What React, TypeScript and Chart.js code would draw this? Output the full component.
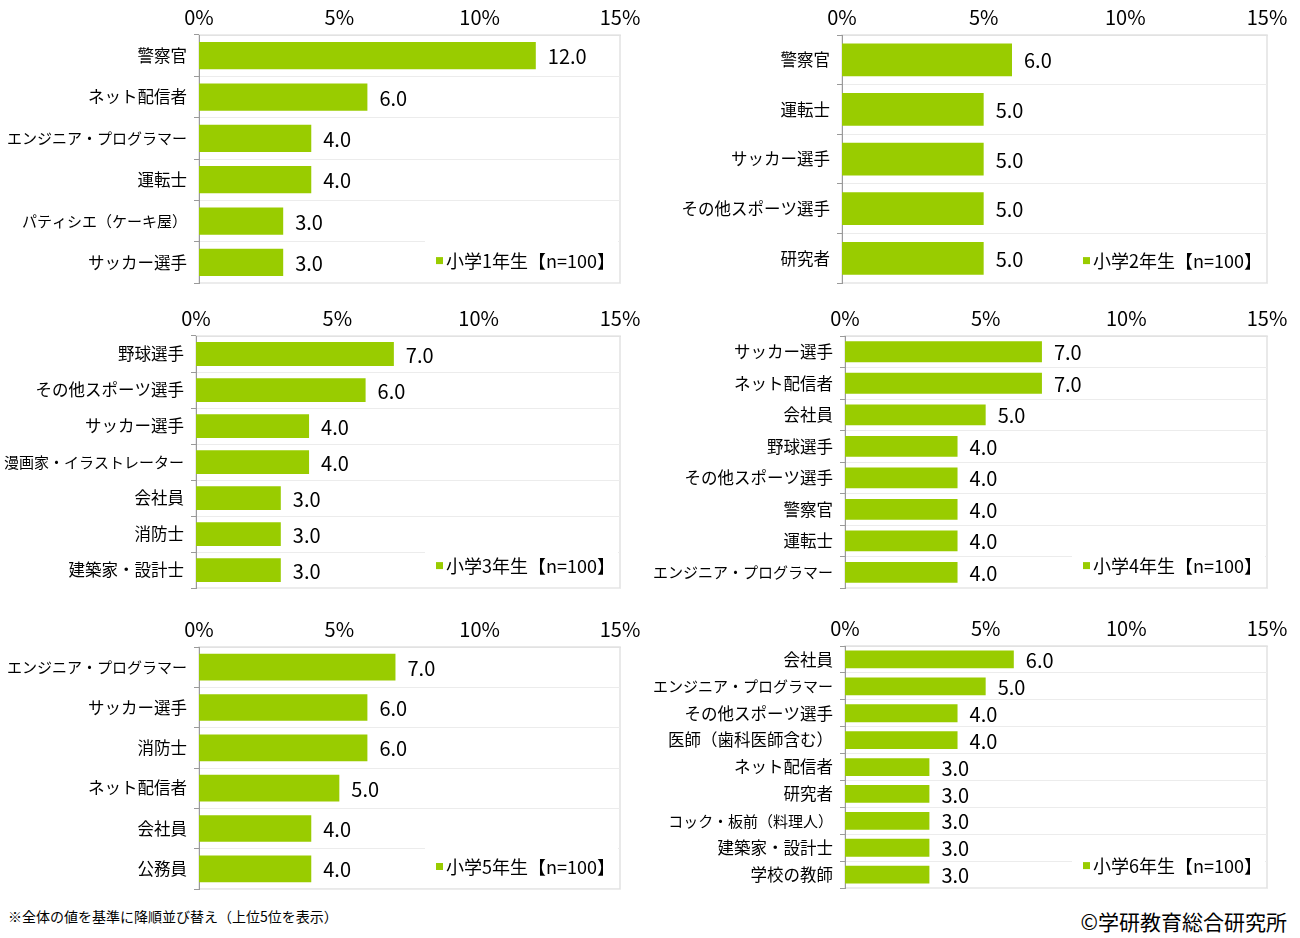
import { useEffect, useRef } from 'react'
import { Chart, registerables } from 'chart.js'

Chart.register(...registerables)

const FONT = '"Noto Sans CJK JP", "Noto Sans", sans-serif'
const BAR_COLOR = '#99cc00'

// x axis ticks (%)
const xTickValues = [0, 5, 10, 15]

// 小学1年生
const grade1Jobs = ['警察官', 'ネット配信者', 'エンジニア・プログラマー', '運転士', 'パティシエ（ケーキ屋）', 'サッカー選手']
const grade1Values = [12.0, 6.0, 4.0, 4.0, 3.0, 3.0]

// 小学2年生
const grade2Jobs = ['警察官', '運転士', 'サッカー選手', 'その他スポーツ選手', '研究者']
const grade2Values = [6.0, 5.0, 5.0, 5.0, 5.0]

// 小学3年生
const grade3Jobs = ['野球選手', 'その他スポーツ選手', 'サッカー選手', '漫画家・イラストレーター', '会社員', '消防士', '建築家・設計士']
const grade3Values = [7.0, 6.0, 4.0, 4.0, 3.0, 3.0, 3.0]

// 小学4年生
const grade4Jobs = ['サッカー選手', 'ネット配信者', '会社員', '野球選手', 'その他スポーツ選手', '警察官', '運転士', 'エンジニア・プログラマー']
const grade4Values = [7.0, 7.0, 5.0, 4.0, 4.0, 4.0, 4.0, 4.0]

// 小学5年生
const grade5Jobs = ['エンジニア・プログラマー', 'サッカー選手', '消防士', 'ネット配信者', '会社員', '公務員']
const grade5Values = [7.0, 6.0, 6.0, 5.0, 4.0, 4.0]

// 小学6年生
const grade6Jobs = ['会社員', 'エンジニア・プログラマー', 'その他スポーツ選手', '医師（歯科医師含む）', 'ネット配信者', '研究者', 'コック・板前（料理人）', '建築家・設計士', '学校の教師']
const grade6Values = [6.0, 5.0, 4.0, 4.0, 3.0, 3.0, 3.0, 3.0, 3.0]

const legendNames = ['小学1年生【n=100】', '小学2年生【n=100】', '小学3年生【n=100】', '小学4年生【n=100】', '小学5年生【n=100】', '小学6年生【n=100】']

// where each small chart sits on the page (box = canvas, plot = chart area)
const panels = [
  { jobs: grade1Jobs, values: grade1Values, legend: legendNames[0], box: { x: 0, y: 0, w: 660, h: 300 }, plot: { l: 199, t: 35, r: 620, b: 289 } },
  { jobs: grade2Jobs, values: grade2Values, legend: legendNames[1], box: { x: 640, y: 0, w: 660, h: 300 }, plot: { l: 842, t: 35, r: 1267, b: 289 } },
  { jobs: grade3Jobs, values: grade3Values, legend: legendNames[2], box: { x: 0, y: 300, w: 660, h: 305 }, plot: { l: 196, t: 336, r: 620, b: 590 } },
  { jobs: grade4Jobs, values: grade4Values, legend: legendNames[3], box: { x: 640, y: 300, w: 660, h: 305 }, plot: { l: 845, t: 336, r: 1267, b: 590 } },
  { jobs: grade5Jobs, values: grade5Values, legend: legendNames[4], box: { x: 0, y: 605, w: 660, h: 300 }, plot: { l: 199, t: 647, r: 620, b: 893 } },
  { jobs: grade6Jobs, values: grade6Values, legend: legendNames[5], box: { x: 640, y: 605, w: 660, h: 300 }, plot: { l: 845, t: 646, r: 1267, b: 893 } }
]

type Panel = typeof panels[number]

// light frame round the plot area
const frame = {
  id: 'frame',
  beforeDraw(chart: Chart) {
    const { ctx, chartArea: a } = chart
    ctx.save()
    ctx.strokeStyle = '#e2e2e2'
    ctx.lineWidth = 1.5
    ctx.strokeRect(a.left, a.top, a.right - a.left, a.bottom - a.top)
    ctx.restore()
  }
}

// "12.0" etc. right of each bar
const valueLabels = {
  id: 'valueLabels',
  afterDatasetsDraw(chart: Chart) {
    const { ctx } = chart
    const values = chart.data.datasets[0].data as number[]
    ctx.save()
    ctx.font = `20px ${FONT}`
    ctx.fillStyle = '#000'
    ctx.textBaseline = 'middle'
    chart.getDatasetMeta(0).data.forEach((bar, i) => {
      ctx.fillText(values[i].toFixed(1), bar.x + 12, bar.y + 1)
    })
    ctx.restore()
  }
}

// legend sitting inside the plot, bottom right
const legendBox = (text: string) => ({
  id: 'legendBox',
  beforeDatasetsDraw(chart: Chart) {
    const { ctx, chartArea: a } = chart
    const cy = a.bottom - 22
    const mx = a.right - 181
    ctx.save()
    ctx.fillStyle = '#fff'
    ctx.fillRect(a.right - 195, cy - 22, 193, 38)
    ctx.fillStyle = BAR_COLOR
    ctx.fillRect(mx - 3, cy - 4, 7, 7)
    ctx.font = `18px ${FONT}`
    ctx.fillStyle = '#000'
    ctx.textBaseline = 'middle'
    ctx.fillText(text, mx + 7, cy)
    ctx.restore()
  }
})

function GradeChart({ panel }: { panel: Panel }) {
  const canvasRef = useRef<HTMLCanvasElement>(null)
  const { box, plot } = panel

  useEffect(() => {
    if (!canvasRef.current) return
    const chart = new Chart(canvasRef.current, {
      type: 'bar',
      data: {
        labels: panel.jobs,
        datasets: [{
          data: panel.values,
          backgroundColor: BAR_COLOR,
          borderWidth: 0,
          categoryPercentage: 0.66,
          barPercentage: 1
        }]
      },
      options: {
        indexAxis: 'y',
        responsive: false,
        animation: false,
        layout: {
          padding: {
            left: 0,
            top: 0,
            right: box.x + box.w - plot.r,
            bottom: box.y + box.h - plot.b
          }
        },
        plugins: {
          legend: { display: false },
          tooltip: { enabled: false }
        },
        scales: {
          x: {
            position: 'top',
            min: 0,
            max: 15,
            afterBuildTicks: (s: any) => { s.ticks = xTickValues.map(value => ({ value })) },
            afterFit: (s: any) => { s.height = plot.t - box.y },
            grid: { display: false },
            border: { display: true, color: '#e2e2e2' },
            ticks: {
              font: { size: 20, family: FONT },
              color: '#000',
              padding: -2,
              callback: (v: any) => v + '%'
            }
          },
          y: {
            afterFit: (s: any) => { s.width = plot.l - box.x },
            grid: { color: '#ececec', tickColor: '#9a9a9a', tickLength: 5, offset: true },
            border: { color: '#9a9a9a' },
            ticks: {
              // long job names get a smaller size so they fit left of the axis
              font: (c: any) => {
                const name = panel.jobs[c.index] || ''
                return { size: name.length > 10 ? 15 : 16.5, family: FONT }
              },
              color: '#000',
              padding: 7,
              autoSkip: false
            }
          }
        }
      },
      plugins: [frame, legendBox(panel.legend), valueLabels]
    })
    return () => chart.destroy()
  }, [panel])

  return (
    <canvas
      ref={canvasRef}
      width={box.w}
      height={box.h}
      style={{ position: 'absolute', left: box.x, top: box.y, width: box.w, height: box.h }}
    />
  )
}

export default function App() {
  return (
    <div style={{ position: 'absolute', left: 0, top: 0, width: 1300, height: 938, background: '#fff', fontFamily: FONT }}>
      {panels.map((p, i) => <GradeChart key={i} panel={p} />)}
      <div style={{ position: 'absolute', left: 8, top: 906, fontSize: 14, lineHeight: '20px', color: '#000' }}>
        ※全体の値を基準に降順並び替え（上位5位を表示）
      </div>
      <div style={{ position: 'absolute', right: 13, top: 908, fontSize: 21, lineHeight: '26px', color: '#000' }}>
        ©学研教育総合研究所
      </div>
    </div>
  )
}
